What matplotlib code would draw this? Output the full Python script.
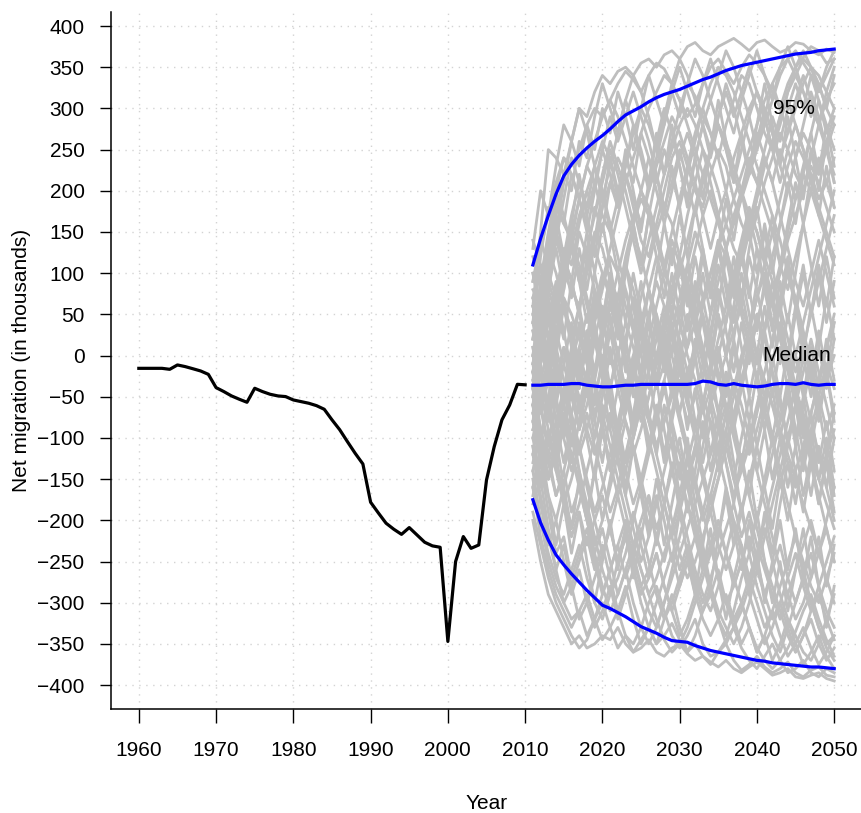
import matplotlib
matplotlib.use("Agg")
import matplotlib.pyplot as plt

plt.rcParams["font.family"] = ["Liberation Sans", "DejaVu Sans"]

# observed net migration, 1960-2010 (thousands)
hist_years = list(range(1960, 2011))
hist_values = [
    -15.5, -15.5, -15.5, -15.5, -16.7, -11.4, -13.4, -16.0, -18.7, -22.8,
    -38.9, -43.7, -49.0, -53.0, -56.7, -39.7, -43.7, -47.0, -49.0, -49.8,
    -53.9, -55.9, -57.9, -60.8, -65.2, -78.0, -90.0, -104.5, -118.6, -131.6,
    -178.0, -191.0, -203.5, -210.8, -217.0, -208.8, -217.7, -226.6, -231.0, -232.7,
    -347.0, -250.0, -219.7, -234.0, -229.9, -151.0, -110.5, -78.0, -60.0, -34.9,
    -35.5,
]

# projection horizon
proj_years = list(range(2011, 2051))

proj_median = [
    -36, -36, -35, -35, -35, -34, -34, -36, -37, -38,
    -38, -37, -36, -36, -35, -35, -35, -35, -35, -35,
    -35, -34, -31, -32, -35, -36, -34, -36, -37, -38,
    -37, -35, -34, -34, -35, -33, -35, -36, -35, -35,
]
proj_upper = [
    110, 142, 170, 196, 218, 232, 243, 252, 260, 267,
    275, 284, 292, 297, 302, 308, 313, 317, 320, 323,
    327, 331, 335, 338, 342, 346, 349, 352, 354, 356,
    358, 360, 362, 364, 366, 367, 368, 370, 371, 372,
]
proj_lower = [
    -175, -203, -224, -242, -254, -265, -275, -285, -294, -303,
    -307, -312, -317, -323, -329, -333, -337, -342, -346, -347,
    -348, -352, -355, -358, -360, -362, -364, -366, -368, -370,
    -371, -373, -374, -375, -376, -377, -378, -378, -379, -380,
]

# simulated trajectories, 2011-2050
sim_paths = [
    [60, 150, 250, 240, 220, 260, 300, 290, 320, 340, 330, 345, 350, 340, 355, 360, 350, 365, 370, 360,
     375, 380, 370, 365, 375, 380, 385, 378, 370, 380, 383, 375, 368, 372, 380, 378, 370, 365, 372, 368],
    [20, 90, 140, 200, 240, 230, 250, 280, 300, 290, 310, 330, 345, 335, 320, 340, 355, 348, 330, 310,
     290, 305, 330, 350, 360, 345, 330, 350, 365, 355, 340, 320, 300, 330, 350, 362, 375, 370, 355, 360],
    [-20, 40, 110, 150, 120, 170, 210, 180, 230, 260, 240, 200, 230, 270, 300, 280, 250, 220, 260, 300,
     330, 315, 290, 270, 240, 280, 310, 340, 330, 300, 270, 250, 290, 320, 340, 360, 350, 330, 300, 280],
    [80, 60, 120, 180, 160, 140, 190, 230, 210, 170, 150, 190, 220, 180, 140, 120, 160, 200, 240, 260,
     230, 200, 180, 220, 250, 230, 190, 160, 140, 170, 210, 240, 270, 250, 220, 200, 240, 280, 310, 330],
    [-60, 10, 60, 40, 100, 80, 60, 110, 150, 130, 90, 70, 120, 160, 190, 170, 140, 100, 80, 120,
     170, 210, 250, 230, 200, 160, 130, 110, 150, 190, 230, 260, 290, 310, 280, 250, 220, 190, 210, 240],
    [-30, -60, -10, 30, 70, 50, 20, -10, 40, 80, 120, 100, 60, 30, 70, 110, 150, 180, 160, 120,
     80, 40, 0, 50, 90, 130, 170, 200, 230, 210, 180, 150, 110, 80, 120, 160, 200, 230, 260, 290],
    [-100, -50, -80, -30, 10, -20, -60, -30, 20, 60, 40, 0, -40, -10, 30, 80, 120, 90, 50, 20,
     -20, 10, 60, 100, 140, 120, 80, 50, 20, -10, 30, 70, 110, 150, 190, 220, 200, 170, 140, 110],
    [30, 0, 40, 90, 60, 20, -20, 10, 60, 100, 80, 40, 0, -40, -80, -50, -10, 30, 70, 40,
     0, -30, -70, -40, 0, 40, 90, 130, 170, 150, 120, 90, 60, 20, -20, 10, 50, 90, 130, 170],
    [-40, -90, -130, -100, -60, -20, -50, -90, -120, -80, -40, 0, 40, 10, -30, -70, -110, -80, -40, 0,
     40, 80, 50, 10, -30, -70, -40, 0, 30, 70, 100, 60, 20, -20, -60, -100, -70, -30, 10, 50],
    [-80, -130, -170, -200, -160, -120, -150, -190, -230, -200, -160, -120, -80, -110, -150, -190, -220, -250, -210, -170,
     -130, -90, -50, -80, -120, -160, -200, -240, -270, -240, -200, -160, -120, -80, -40, -70, -110, -150, -180, -210],
    [-150, -200, -240, -270, -290, -260, -230, -270, -300, -320, -290, -250, -210, -240, -280, -310, -330, -300, -260, -220,
     -180, -210, -250, -290, -320, -340, -310, -270, -240, -280, -310, -340, -360, -330, -300, -270, -300, -330, -350, -340],
    [-200, -250, -290, -310, -330, -350, -340, -355, -350, -340, -345, -330, -350, -360, -355, -345, -360, -365, -355, -350,
     -362, -370, -365, -372, -378, -370, -380, -385, -378, -372, -380, -388, -385, -380, -390, -392, -388, -385, -392, -395],
    [-120, -170, -220, -260, -300, -320, -310, -290, -320, -345, -330, -310, -340, -350, -330, -300, -280, -310, -340, -355,
     -340, -320, -350, -365, -360, -345, -330, -355, -370, -380, -365, -350, -370, -385, -380, -370, -385, -390, -380, -385],
    [0, -40, -90, -140, -180, -150, -110, -160, -200, -240, -210, -170, -210, -250, -280, -260, -220, -180, -140, -180,
     -220, -260, -290, -310, -280, -240, -200, -230, -270, -300, -330, -310, -280, -250, -220, -260, -300, -330, -355, -370],
    [50, 10, -30, -80, -50, -10, 30, 0, -40, -90, -130, -170, -140, -100, -60, -100, -140, -180, -220, -190,
     -150, -110, -150, -190, -230, -260, -230, -190, -150, -110, -70, -100, -140, -180, -220, -250, -280, -300, -270, -240],
    [100, 60, 20, 60, 100, 140, 110, 70, 30, -10, 30, 70, 110, 80, 40, 0, -40, -10, 30, 70,
     110, 150, 120, 80, 40, 0, -40, -80, -120, -90, -50, -10, 30, 0, -40, -80, -120, -150, -120, -90],
    [-10, 30, -20, 20, 60, 30, -10, -50, -20, 20, 60, 100, 140, 170, 200, 180, 150, 110, 70, 100,
     140, 180, 220, 250, 280, 260, 230, 200, 170, 130, 90, 60, 100, 140, 170, 200, 230, 210, 180, 150],
    [-60, -20, -70, -110, -80, -40, 0, -30, -70, -40, 0, -40, -80, -120, -90, -50, -10, 30, 0, -40,
     -80, -50, -10, 20, -20, -60, -100, -140, -110, -70, -30, -60, -100, -130, -160, -130, -90, -50, -10, -40],
    [40, 80, 130, 100, 60, 20, 60, 100, 140, 180, 210, 240, 220, 190, 160, 200, 230, 260, 290, 270,
     240, 210, 170, 130, 170, 200, 240, 270, 300, 320, 300, 270, 240, 270, 300, 330, 350, 340, 320, 300],
    [-90, -60, -20, -60, -100, -140, -110, -70, -110, -150, -190, -160, -120, -80, -40, -80, -120, -160, -200, -240,
     -270, -250, -220, -190, -150, -110, -150, -190, -230, -200, -160, -120, -80, -40, 0, -40, -80, -120, -160, -200],
    [-35, -10, 20, -20, -60, -30, 10, 50, 20, -20, -60, -100, -70, -30, 10, 50, 90, 60, 20, -20,
     -60, -100, -140, -180, -150, -110, -70, -30, 10, 50, 20, -20, -60, -100, -140, -110, -70, -30, 10, 40],
    [120, 90, 150, 200, 170, 130, 90, 130, 170, 210, 250, 220, 180, 140, 100, 140, 180, 220, 250, 280,
     300, 280, 250, 210, 170, 130, 90, 120, 160, 200, 240, 210, 170, 130, 90, 60, 100, 140, 100, 60],
    [-170, -130, -90, -130, -170, -210, -180, -140, -100, -60, -90, -130, -170, -210, -250, -220, -180, -140, -100, -140,
     -180, -220, -190, -150, -110, -70, -30, -60, -100, -140, -180, -220, -260, -290, -320, -300, -270, -240, -200, -160],
    [10, -30, 10, 50, 90, 130, 170, 200, 230, 200, 160, 120, 80, 40, 0, -40, 0, 40, 80, 120,
     90, 50, 10, -30, -70, -110, -80, -40, 0, 40, 80, 120, 160, 200, 240, 270, 250, 220, 250, 280],
    [-50, -100, -60, -20, -60, -100, -140, -180, -220, -260, -290, -270, -240, -200, -160, -120, -80, -40, -80, -120,
     -160, -200, -240, -280, -310, -330, -350, -330, -300, -260, -220, -180, -140, -100, -60, -20, 20, -20, -60, -100],
    [70, 110, 70, 30, -10, -50, -90, -60, -20, 20, 60, 30, -10, -50, -20, 20, 60, 100, 140, 110,
     70, 30, -10, -50, -90, -130, -170, -140, -100, -60, -20, 20, 60, 100, 70, 30, -10, -50, -90, -60],
    [-130, -90, -130, -170, -140, -100, -60, -20, 20, -10, -50, -90, -130, -100, -60, -20, 20, 60, 30, -10,
     -50, -90, -60, -20, 20, 60, 100, 140, 180, 150, 110, 70, 30, -10, -50, -90, -130, -170, -210, -250],
    [20, 60, 100, 140, 110, 150, 190, 230, 260, 290, 310, 290, 260, 230, 200, 170, 140, 110, 150, 190,
     230, 270, 300, 330, 350, 340, 320, 290, 260, 230, 200, 170, 140, 100, 60, 20, -20, -60, -30, 0],
    [-70, -110, -150, -120, -80, -120, -160, -200, -240, -280, -310, -290, -260, -300, -330, -350, -330, -300, -270, -240,
     -210, -180, -150, -120, -90, -60, -90, -130, -170, -210, -250, -280, -310, -340, -360, -340, -310, -280, -310, -330],
    [90, 130, 170, 210, 240, 220, 190, 160, 130, 100, 70, 40, 10, -20, -50, -80, -110, -80, -50, -20,
     10, 40, 70, 100, 130, 160, 190, 220, 250, 280, 310, 330, 350, 360, 340, 320, 300, 280, 250, 220],
    [-20, -70, -30, 10, -30, -70, -110, -150, -190, -160, -120, -80, -40, 0, 40, 80, 50, 10, -30, -70,
     -110, -150, -190, -230, -270, -300, -320, -300, -270, -240, -210, -250, -290, -320, -340, -360, -370, -350, -320, -290],
    [140, 110, 80, 50, 90, 130, 100, 60, 20, -20, -60, -100, -140, -180, -150, -110, -70, -30, 10, 50,
     90, 130, 170, 200, 170, 130, 90, 50, 10, -30, -70, -110, -80, -40, 0, 40, 80, 120, 160, 200],
    [-110, -160, -120, -80, -40, -80, -120, -90, -50, -10, 30, 70, 110, 150, 120, 80, 40, 0, -40, -80,
     -120, -160, -200, -170, -130, -90, -50, -10, 30, 70, 110, 150, 190, 230, 260, 240, 210, 180, 150, 120],
    [-40, 0, 40, 80, 120, 90, 50, 10, -30, -70, -110, -150, -190, -230, -260, -290, -270, -240, -210, -180,
     -150, -120, -90, -60, -30, 0, 30, 60, 30, 0, -30, -60, -90, -120, -150, -180, -210, -240, -270, -300],
    [60, 20, -20, -60, -100, -70, -30, 10, 50, 90, 130, 170, 210, 240, 270, 300, 320, 340, 330, 310,
     280, 250, 220, 190, 160, 130, 160, 190, 220, 250, 280, 310, 340, 360, 370, 355, 340, 320, 340, 360],
    [-190, -230, -270, -300, -320, -340, -355, -345, -320, -290, -260, -230, -200, -230, -260, -290, -320, -345, -360, -350,
     -330, -300, -270, -240, -210, -240, -270, -300, -330, -355, -370, -380, -370, -355, -335, -310, -290, -320, -345, -365],
    [-30, 40, -10, 60, 20, 90, 50, 120, 80, 40, 100, 60, 10, 70, 30, -20, 40, 0, -50, 10,
     -40, 20, -30, 30, 80, 40, 100, 60, 120, 80, 30, 90, 50, 0, 60, 20, -30, 30, -20, 40],
    [-80, -20, -70, -10, -60, -110, -50, -100, -150, -90, -140, -80, -130, -70, -20, -80, -30, -90, -140, -100,
     -160, -110, -60, -120, -70, -130, -180, -120, -170, -110, -160, -210, -150, -200, -140, -190, -130, -180, -120, -170],
    [10, -50, 0, -60, -10, 40, -20, 30, -30, 20, 70, 20, 80, 30, -20, 40, -10, 50, 0, 60,
     10, 70, 130, 80, 140, 90, 40, 100, 50, 0, 60, 10, 70, 120, 60, 110, 50, 100, 40, 90],
    [-120, -60, -110, -50, -100, -40, 10, -40, 20, -30, 30, -20, -70, -10, -60, -120, -70, -130, -80, -30,
     -90, -40, -100, -50, 0, -50, 10, -40, 20, -30, -90, -40, -100, -160, -110, -170, -120, -180, -130, -190],
    [40, -10, 50, 0, 60, 10, -40, 20, -30, -80, -30, -90, -40, -100, -50, 10, -40, 20, -30, 30,
     90, 40, 100, 50, 110, 60, 120, 70, 130, 180, 120, 170, 110, 160, 210, 160, 220, 170, 230, 180],
    [-50, 10, 70, 20, 80, 140, 90, 150, 100, 160, 110, 50, 110, 60, 0, 50, -10, 40, 100, 50,
     110, 60, 0, -50, 10, -40, 20, -30, -80, -20, -70, -10, 40, -10, 50, 100, 50, 110, 60, 120],
    [-140, -90, -150, -100, -160, -210, -150, -200, -140, -80, -140, -90, -30, -80, -20, -70, -120, -60, -110, -170,
     -120, -180, -230, -170, -220, -160, -210, -260, -200, -250, -190, -240, -180, -130, -180, -120, -170, -110, -160, -100],
    [20, 70, 20, 80, 30, -20, 40, -10, -60, 0, -50, -100, -40, -90, -30, 20, -30, 30, -20, -70,
     -20, -80, -130, -80, -140, -90, -150, -100, -50, -110, -60, 0, -50, 10, -40, 20, -30, -80, -20, -70],
    [-10, -70, -20, -80, -130, -80, -140, -190, -140, -200, -150, -100, -160, -110, -170, -220, -170, -230, -180, -130,
     -190, -140, -80, -140, -90, -30, -90, -40, 20, -30, 30, -20, -80, -30, -90, -140, -90, -150, -100, -160],
    [70, 20, 80, 130, 80, 140, 90, 40, 100, 50, -10, 40, -20, 30, 90, 40, 100, 160, 110, 170,
     120, 60, 120, 70, 130, 190, 140, 200, 150, 100, 160, 110, 50, 110, 60, 0, 60, 10, 70, 20],
    [-60, -110, -50, -100, -40, 10, -40, 20, 80, 30, 90, 40, 100, 160, 110, 170, 220, 170, 230, 180,
     120, 180, 130, 70, 130, 80, 20, 80, 30, 90, 150, 100, 160, 210, 160, 220, 270, 220, 280, 230],
    [0, 50, 0, -50, 10, -40, -90, -30, -80, -130, -70, -120, -170, -110, -160, -210, -150, -200, -250, -190,
     -240, -290, -230, -280, -220, -170, -230, -180, -240, -190, -250, -300, -250, -310, -260, -210, -270, -220, -280, -230],
    [-100, -150, -90, -140, -80, -30, -90, -40, -100, -50, 10, -40, 20, 70, 20, 80, 30, -20, 40, -10,
     50, 0, -60, -10, -70, -20, -80, -130, -80, -140, -90, -150, -100, -50, -110, -60, -10, -70, -20, -80],
    [30, -20, -70, -10, -60, 0, 60, 10, 70, 20, -40, 10, -50, 0, -60, -110, -60, -120, -70, -10,
     -60, 0, 50, 0, 60, 120, 70, 130, 80, 30, 90, 40, -10, 50, 0, -50, 10, -40, 20, -30],
    [-20, 30, 90, 150, 100, 160, 220, 170, 120, 180, 240, 190, 250, 200, 150, 210, 270, 220, 280, 230,
     180, 240, 190, 250, 310, 260, 210, 270, 220, 280, 330, 280, 230, 290, 240, 190, 250, 200, 260, 210],
    [-160, -110, -170, -230, -180, -240, -190, -250, -300, -250, -200, -260, -210, -270, -220, -170, -230, -180, -130, -190,
     -140, -200, -260, -210, -270, -320, -270, -230, -290, -240, -300, -250, -200, -260, -210, -270, -220, -280, -330, -280],
    [100, 50, 110, 170, 120, 70, 130, 80, 140, 200, 150, 100, 40, 100, 50, -10, 50, 0, 60, 10,
     -50, 0, -60, -10, 50, 0, 60, 120, 70, 130, 80, 30, 90, 40, 100, 160, 110, 60, 120, 70],
    [-70, -10, -60, -120, -70, -130, -80, -20, -80, -30, -90, -40, 20, -30, 30, -20, -80, -30, -90, -150,
     -100, -160, -110, -60, -120, -70, -130, -190, -140, -200, -150, -100, -160, -110, -60, -120, -70, -130, -80, -140],
    [50, 110, 60, 10, 70, 20, -30, 30, -20, 40, 100, 50, 110, 160, 110, 170, 120, 70, 130, 80,
     30, 90, 40, -10, 50, 0, 60, 10, -50, 0, -50, -100, -50, -110, -60, 0, -50, 10, -40, 20],
    [-40, -100, -50, 0, -60, -10, -70, -20, 40, -10, 50, 0, -60, -10, -70, -20, 40, -10, 50, 110,
     60, 120, 70, 20, 80, 30, -20, 40, -10, 50, 0, -50, 10, -40, -100, -50, -110, -60, -120, -70],
    [40, 120, 180, 150, 210, 260, 230, 280, 250, 300, 270, 320, 290, 250, 300, 340, 310, 280, 320, 350,
     320, 290, 330, 360, 330, 300, 270, 310, 340, 370, 340, 310, 350, 375, 350, 320, 290, 330, 300, 340],
    [0, 70, 130, 190, 160, 220, 190, 150, 200, 250, 220, 180, 230, 280, 250, 210, 260, 300, 270, 230,
     190, 240, 280, 250, 290, 330, 300, 260, 220, 260, 300, 270, 230, 200, 240, 280, 320, 290, 250, 210],
    [90, 140, 110, 170, 220, 200, 260, 240, 290, 330, 300, 270, 310, 280, 240, 200, 240, 280, 320, 290,
     330, 360, 340, 310, 340, 370, 350, 320, 290, 250, 290, 330, 300, 270, 310, 340, 310, 280, 320, 350],
    [-10, 50, 100, 70, 130, 110, 160, 200, 170, 220, 260, 230, 200, 160, 200, 240, 210, 250, 220, 180,
     220, 260, 300, 270, 240, 200, 160, 200, 240, 210, 250, 290, 260, 300, 330, 300, 340, 310, 270, 300],
    [130, 200, 170, 230, 280, 260, 300, 270, 230, 190, 230, 270, 310, 340, 320, 290, 250, 290, 330, 360,
     340, 310, 280, 240, 280, 250, 210, 250, 290, 320, 290, 250, 280, 320, 350, 370, 350, 320, 350, 370],
    [60, 30, 90, 60, 120, 90, 150, 120, 180, 150, 210, 180, 240, 210, 270, 240, 200, 160, 200, 240,
     270, 240, 280, 310, 280, 250, 220, 190, 230, 270, 240, 210, 250, 220, 190, 230, 270, 310, 280, 250],
    [-50, 20, 80, 140, 190, 240, 210, 170, 210, 250, 290, 260, 290, 320, 290, 260, 220, 180, 210, 250,
     210, 170, 210, 250, 290, 320, 290, 320, 350, 320, 290, 250, 210, 250, 280, 250, 210, 240, 210, 180],
    [-110, -180, -230, -200, -250, -290, -260, -300, -330, -310, -280, -320, -290, -260, -300, -330, -350, -320, -290, -330,
     -360, -340, -310, -280, -320, -350, -330, -300, -330, -360, -340, -370, -350, -320, -350, -375, -360, -340, -365, -380],
    [-60, -130, -190, -240, -220, -270, -240, -210, -250, -290, -260, -230, -270, -240, -210, -250, -290, -320, -300, -270,
     -240, -280, -310, -290, -260, -300, -330, -310, -280, -250, -290, -320, -300, -270, -240, -280, -310, -290, -320, -345],
    [-180, -150, -210, -260, -230, -280, -250, -220, -260, -230, -270, -310, -280, -320, -350, -330, -300, -270, -240, -280,
     -250, -290, -320, -340, -320, -290, -320, -350, -330, -360, -340, -310, -340, -365, -350, -330, -355, -375, -360, -340],
    [-20, -90, -150, -120, -180, -220, -190, -230, -200, -170, -210, -250, -220, -190, -230, -270, -240, -280, -310, -280,
     -250, -220, -260, -230, -200, -240, -280, -250, -220, -260, -290, -260, -230, -270, -300, -270, -240, -280, -250, -220],
    [-140, -200, -250, -280, -300, -280, -320, -300, -270, -240, -210, -250, -220, -260, -290, -270, -240, -280, -310, -340,
     -320, -290, -260, -230, -270, -300, -280, -250, -290, -320, -350, -330, -300, -330, -360, -340, -320, -350, -370, -355],
    [-90, -60, -120, -170, -140, -190, -160, -200, -240, -210, -250, -290, -260, -230, -200, -170, -210, -180, -220, -260,
     -230, -270, -300, -270, -240, -210, -180, -220, -190, -230, -260, -290, -320, -290, -260, -230, -200, -240, -210, -250],
    [-160, -220, -260, -290, -310, -330, -310, -340, -320, -300, -330, -355, -340, -360, -345, -330, -350, -340, -325, -345,
     -360, -350, -365, -375, -360, -350, -370, -382, -375, -365, -378, -385, -380, -372, -385, -390, -382, -378, -388, -390],
]

year_ticks = list(range(1960, 2051, 10))
value_ticks = list(range(-400, 401, 50))

fs = 15

fig = plt.figure(figsize=(8.62, 8.13), dpi=100)
ax = fig.add_axes([111 / 862, 1 - 709 / 813, (862 - 111) / 862, (709 - 12) / 813])

for path in sim_paths:
    ax.plot(proj_years, path, color="#bebebe", lw=2.0, zorder=2)

ax.plot(hist_years, hist_values, color="black", lw=2.3, zorder=4)
ax.plot(proj_years, proj_median, color="#0000ff", lw=2.3, zorder=4)
ax.plot(proj_years, proj_upper, color="#0000ff", lw=2.3, zorder=4)
ax.plot(proj_years, proj_lower, color="#0000ff", lw=2.3, zorder=4)

ax.text(2044.8, 300, "95%", fontsize=fs, ha="center", va="center", zorder=5)
ax.text(2045.2, 0, "Median", fontsize=fs, ha="center", va="center", zorder=5)

ax.set_xlim(1956.4, 2053.6)
ax.set_ylim(-429, 417)
ax.set_xticks(year_ticks)
ax.set_yticks(value_ticks)
ax.set_yticklabels([str(v).replace("-", "\u2212") for v in value_ticks])
ax.tick_params(axis="x", length=10, width=1.0, pad=13, labelsize=fs)
ax.tick_params(axis="y", length=8, width=1.0, pad=11, labelsize=fs)

ax.grid(True, color="#d3d3d3", linestyle=(0, (1, 4)), linewidth=1.0, zorder=0)
ax.set_axisbelow(True)

for side in ("top", "right"):
    ax.spines[side].set_visible(False)
for side in ("left", "bottom"):
    ax.spines[side].set_linewidth(1.1)

# axis titles placed in figure coordinates
fig.text(487 / 862, 1 - 803 / 813, "Year", fontsize=fs, ha="center", va="center")
fig.text(22 / 862, 1 - 360 / 813, "Net migration (in thousands)", fontsize=fs,
         ha="center", va="center", rotation=90)

fig.savefig("out.png", dpi=100)
